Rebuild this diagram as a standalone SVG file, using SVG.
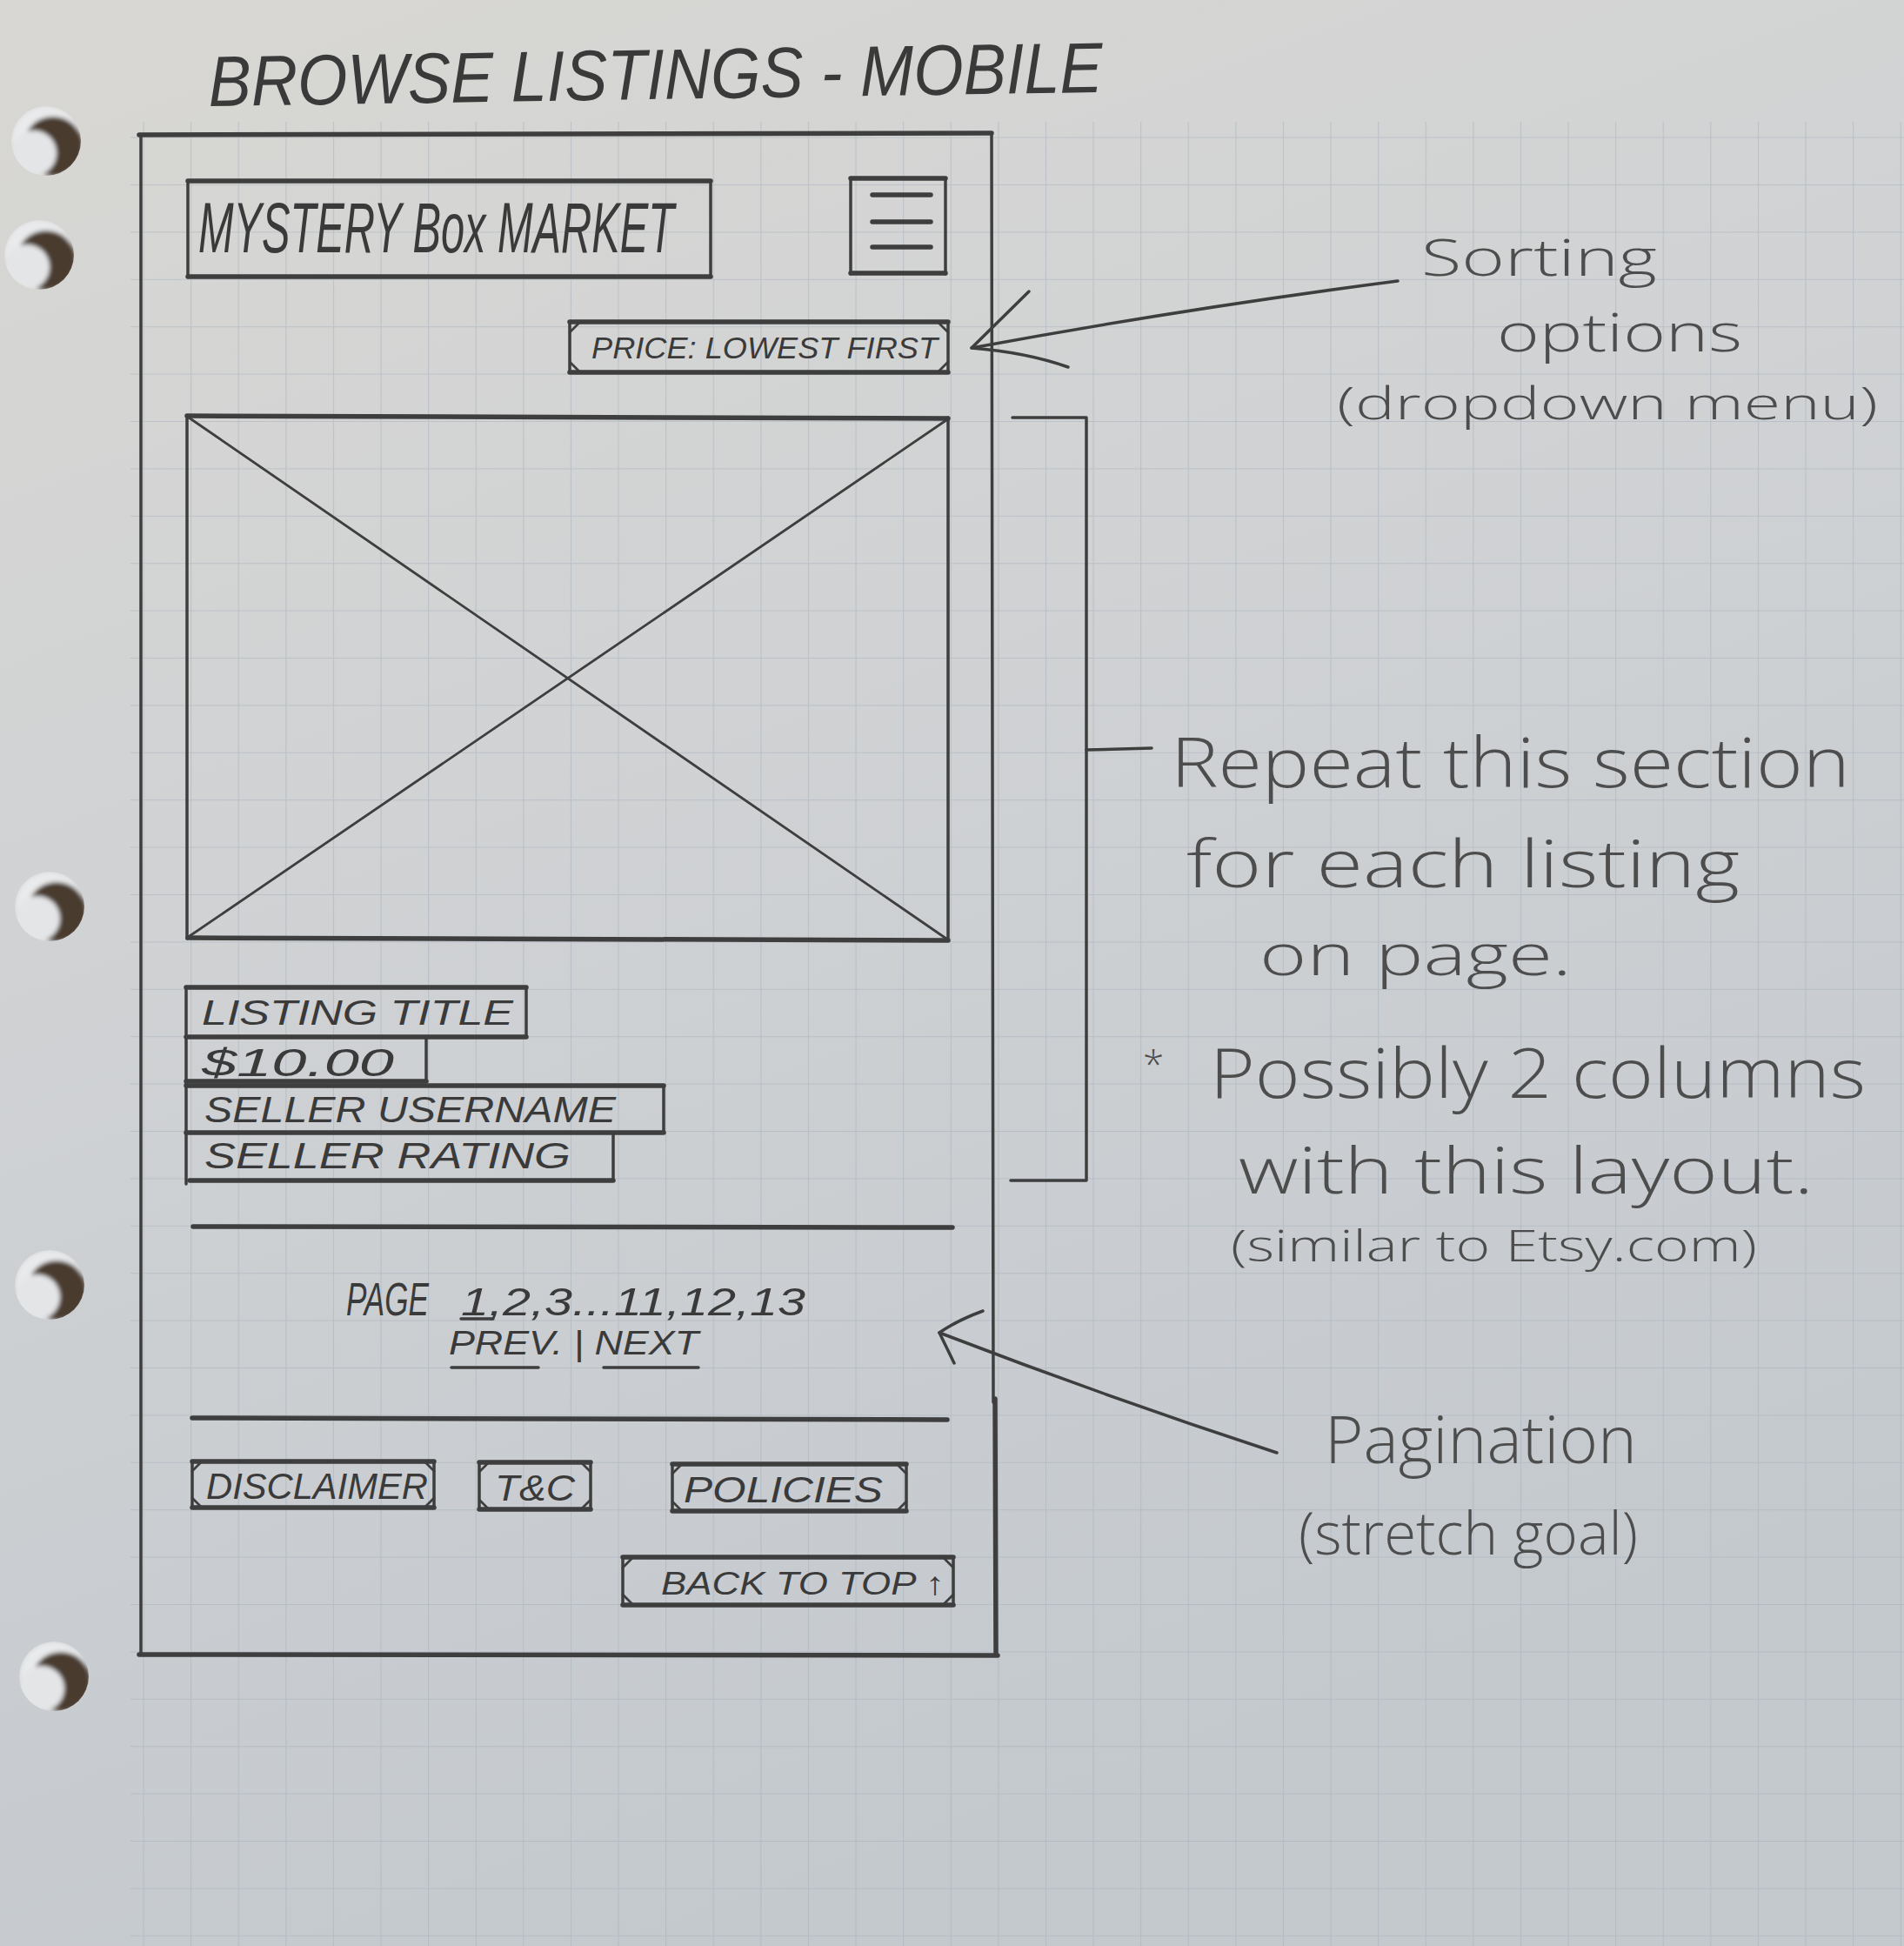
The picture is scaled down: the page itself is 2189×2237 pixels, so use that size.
<svg xmlns="http://www.w3.org/2000/svg" width="2189" height="2237" viewBox="0 0 2189 2237">
  <defs>
    <linearGradient id="paper" x1="0" y1="0" x2="0.35" y2="1">
      <stop offset="0" stop-color="#d8d7d3"/>
      <stop offset="0.45" stop-color="#d0d2d4"/>
      <stop offset="1" stop-color="#c4c9ce"/>
    </linearGradient>
    <pattern id="grid" x="164.5" y="157.6" width="54.6" height="54.4" patternUnits="userSpaceOnUse">
      <path d="M0,0 V54.4 M0,0 H54.6" fill="none" stroke="#9eabb8" stroke-opacity="0.45" stroke-width="2.2"/>
    </pattern>
    <filter id="soft" x="-30%" y="-30%" width="160%" height="160%">
      <feGaussianBlur stdDeviation="2.5"/>
    </filter>
    <clipPath id="holeClip"><circle cx="0" cy="0" r="40"/></clipPath>
    <symbol id="hole" overflow="visible">
      <g clip-path="url(#holeClip)" filter="url(#soft)">
        <circle cx="0" cy="0" r="40" fill="#e9eaec"/>
        <circle cx="8" cy="6" r="34" fill="#4a3a2e"/>
        <circle cx="-14" cy="14" r="26" fill="#e4e5e7"/>
      </g>
    </symbol>
    <style>
      .pen { fill: none; stroke: #3e3e3e; stroke-width: 3.5; stroke-linecap: round; stroke-linejoin: round; }
      .bold { stroke-width: 5.5; }
      .thin { stroke-width: 2.8; }
      .ui { font-family: "Liberation Sans", "DejaVu Sans", sans-serif; fill: #3a3a3a; font-style: italic; }
      .note { font-family: "Open Sans", "Liberation Sans", sans-serif; font-weight: 300; fill: #4d4d4d; }
    </style>
  </defs>

  <!-- paper and grid -->
  <rect x="0" y="0" width="2189" height="2237" fill="url(#paper)"/>
  <rect x="150" y="140" width="2039" height="2097" fill="url(#grid)"/>

  <!-- binder holes -->
  <g id="holes">
    <use href="#hole" x="53" y="162"/>
    <use href="#hole" x="45" y="293"/>
    <use href="#hole" x="57" y="1042"/>
    <use href="#hole" x="57" y="1477"/>
    <use href="#hole" x="62" y="1927"/>
  </g>

  <!-- page title -->
  <g id="title">
    <text class="ui" x="240" y="122" font-size="82" textLength="1028" lengthAdjust="spacingAndGlyphs" transform="rotate(-0.9 240 122)">BROWSE LISTINGS - MOBILE</text>
  </g>

  <!-- phone frame -->
  <g id="phone">
    <path class="pen bold" d="M160,155 L1140,153"/>
    <path class="pen" d="M162,155 L162,1902 M1140,153 L1142,1612"/>
    <path class="pen bold" d="M1144,1608 L1145,1902 M160,1902 L1147,1903"/>
  </g>

  <!-- header: logo and menu -->
  <g id="logo">
    <rect class="pen" x="216" y="208" width="601" height="110"/>
    <path class="pen bold" d="M216,208 H817 M216,318 H817"/>
    <text class="ui" x="228" y="290" font-size="82" textLength="547" lengthAdjust="spacingAndGlyphs">MYSTERY Box MARKET</text>
  </g>
  <g id="menu">
    <path class="pen" d="M978,205 V315 M1087,205 V315"/>
    <path class="pen bold" d="M978,205 H1087 M978,314 H1087 M1003,224 H1070 M1003,255 H1070 M1003,284 H1070"/>
  </g>

  <!-- sort dropdown -->
  <g id="sort-dropdown">
    <rect class="pen" x="655" y="370" width="435" height="58"/>
    <path class="pen bold" d="M655,370 H1090 M655,428 H1090"/>
    <path class="pen thin" d="M655,382 L667,370 M1078,370 L1090,382 M1090,416 L1078,428 M667,428 L655,416"/>
    <text class="ui" x="680" y="412" font-size="35" textLength="398" lengthAdjust="spacingAndGlyphs">PRICE: LOWEST FIRST</text>
  </g>

  <!-- listing image placeholder -->
  <g id="listing-image">
    <path class="pen" d="M215,478 V1079 M1090,480 V1080"/>
    <path class="pen bold" d="M215,478 L1090,481 M216,1078 L1090,1081"/>
    <path class="pen thin" d="M217,480 L1088,1079 M1088,483 L218,1076"/>
  </g>

  <!-- listing details -->
  <g id="listing-title">
    <path class="pen bold" d="M214,1135 H605 M214,1192 H605"/>
    <path class="pen" d="M605,1135 V1192"/>
    <text class="ui" x="232" y="1178" font-size="40" textLength="358" lengthAdjust="spacingAndGlyphs">LISTING TITLE</text>
  </g>
  <g id="listing-price">
    <path class="pen" d="M490,1192 V1242"/>
    <path class="pen bold" d="M214,1243 H490"/>
    <text class="ui" x="232" y="1237" font-size="44" textLength="221" lengthAdjust="spacingAndGlyphs">$10.00</text>
  </g>
  <g id="seller-username">
    <path class="pen bold" d="M214,1248 H763 M214,1302 H763"/>
    <path class="pen" d="M763,1248 V1302"/>
    <text class="ui" x="235" y="1290" font-size="42" textLength="473" lengthAdjust="spacingAndGlyphs">SELLER USERNAME</text>
  </g>
  <g id="seller-rating">
    <path class="pen bold" d="M218,1357 H705"/>
    <path class="pen" d="M705,1302 V1357 M214,1135 V1361"/>
    <text class="ui" x="235" y="1343" font-size="42" textLength="421" lengthAdjust="spacingAndGlyphs">SELLER RATING</text>
  </g>

  <!-- pagination block -->
  <g id="pagination">
    <path class="pen bold" d="M222,1410 L1095,1411"/>
    <text class="ui" x="398" y="1512" font-size="54" textLength="95" lengthAdjust="spacingAndGlyphs">PAGE</text>
    <text class="ui" x="530" y="1512" font-size="44" textLength="396" lengthAdjust="spacingAndGlyphs">1,2,3...11,12,13</text>
    <path class="pen" d="M530,1516 H567"/>
    <text class="ui" x="516" y="1557" font-size="38" textLength="287" lengthAdjust="spacingAndGlyphs">PREV. | NEXT</text>
    <path class="pen" d="M519,1572 H619 M694,1572 H803"/>
    <path class="pen bold" d="M221,1630 L1089,1632"/>
  </g>

  <!-- footer links -->
  <g id="btn-disclaimer">
    <rect class="pen" x="221" y="1680" width="278" height="53"/>
    <path class="pen bold" d="M221,1680 H499 M221,1733 H499"/>
    <path class="pen thin" d="M221,1691 L232,1680 M488,1680 L499,1691 M499,1722 L488,1733 M232,1733 L221,1722"/>
    <text class="ui" x="237" y="1723" font-size="42" textLength="255" lengthAdjust="spacingAndGlyphs">DISCLAIMER</text>
  </g>
  <g id="btn-tc">
    <rect class="pen" x="551" y="1681" width="128" height="54"/>
    <path class="pen bold" d="M551,1681 H679 M551,1735 H679"/>
    <path class="pen thin" d="M551,1692 L562,1681 M668,1681 L679,1692 M679,1724 L668,1735 M562,1735 L551,1724"/>
    <text class="ui" x="569" y="1725" font-size="42" textLength="92" lengthAdjust="spacingAndGlyphs">T&amp;C</text>
  </g>
  <g id="btn-policies">
    <rect class="pen" x="773" y="1683" width="269" height="54"/>
    <path class="pen bold" d="M773,1683 H1042 M773,1737 H1042"/>
    <path class="pen thin" d="M773,1694 L784,1683 M1031,1683 L1042,1694 M1042,1726 L1031,1737 M784,1737 L773,1726"/>
    <text class="ui" x="786" y="1727" font-size="42" textLength="229" lengthAdjust="spacingAndGlyphs">POLICIES</text>
  </g>
  <g id="btn-back-to-top">
    <rect class="pen" x="716" y="1790" width="380" height="55"/>
    <path class="pen bold" d="M716,1790 H1096 M716,1845 H1096"/>
    <path class="pen thin" d="M716,1802 L728,1790 M1084,1790 L1096,1802 M1096,1833 L1084,1845 M728,1845 L716,1833"/>
    <text class="ui" x="760" y="1833" font-size="37" textLength="326" lengthAdjust="spacingAndGlyphs">BACK TO TOP ↑</text>
  </g>

  <!-- annotations -->
  <g id="note-sorting">
    <text class="note" x="1634" y="317" font-size="58" textLength="271" lengthAdjust="spacingAndGlyphs">Sorting</text>
    <text class="note" x="1721" y="404" font-size="60" textLength="282" lengthAdjust="spacingAndGlyphs">options</text>
    <text class="note" x="1537" y="482" font-size="52" textLength="622" lengthAdjust="spacingAndGlyphs">(dropdown menu)</text>
  </g>
  <g id="note-repeat">
    <text class="note" x="1346" y="905" font-size="80" textLength="781" lengthAdjust="spacingAndGlyphs">Repeat this section</text>
    <text class="note" x="1364" y="1020" font-size="76" textLength="636" lengthAdjust="spacingAndGlyphs">for each listing</text>
    <text class="note" x="1448" y="1121" font-size="66" textLength="359" lengthAdjust="spacingAndGlyphs">on page.</text>
    <text class="note" x="1314" y="1240" font-size="44">*</text>
    <text class="note" x="1391" y="1262" font-size="80" textLength="754" lengthAdjust="spacingAndGlyphs">Possibly 2 columns</text>
    <text class="note" x="1424" y="1372" font-size="74" textLength="661" lengthAdjust="spacingAndGlyphs">with this layout.</text>
    <text class="note" x="1415" y="1450" font-size="50" textLength="605" lengthAdjust="spacingAndGlyphs">(similar to Etsy.com)</text>
  </g>
  <g id="note-pagination">
    <text class="note" x="1523" y="1682" font-size="76" textLength="359" lengthAdjust="spacingAndGlyphs">Pagination</text>
    <text class="note" x="1493" y="1787" font-size="68" textLength="390" lengthAdjust="spacingAndGlyphs">(stretch goal)</text>
  </g>

  <!-- connectors: callout arrows and section bracket -->
  <g id="connectors" class="pen">
    <path d="M1607,323 Q1360,355 1117,400"/>
    <path d="M1183,335 L1117,400 Q1180,405 1228,422"/>
    <path d="M1164,480 H1249 V1357 H1162"/>
    <path d="M1249,862 L1324,860"/>
    <path d="M1468,1670 Q1270,1605 1080,1532"/>
    <path d="M1130,1507 Q1100,1518 1080,1532 L1097,1567"/>
  </g>
</svg>
